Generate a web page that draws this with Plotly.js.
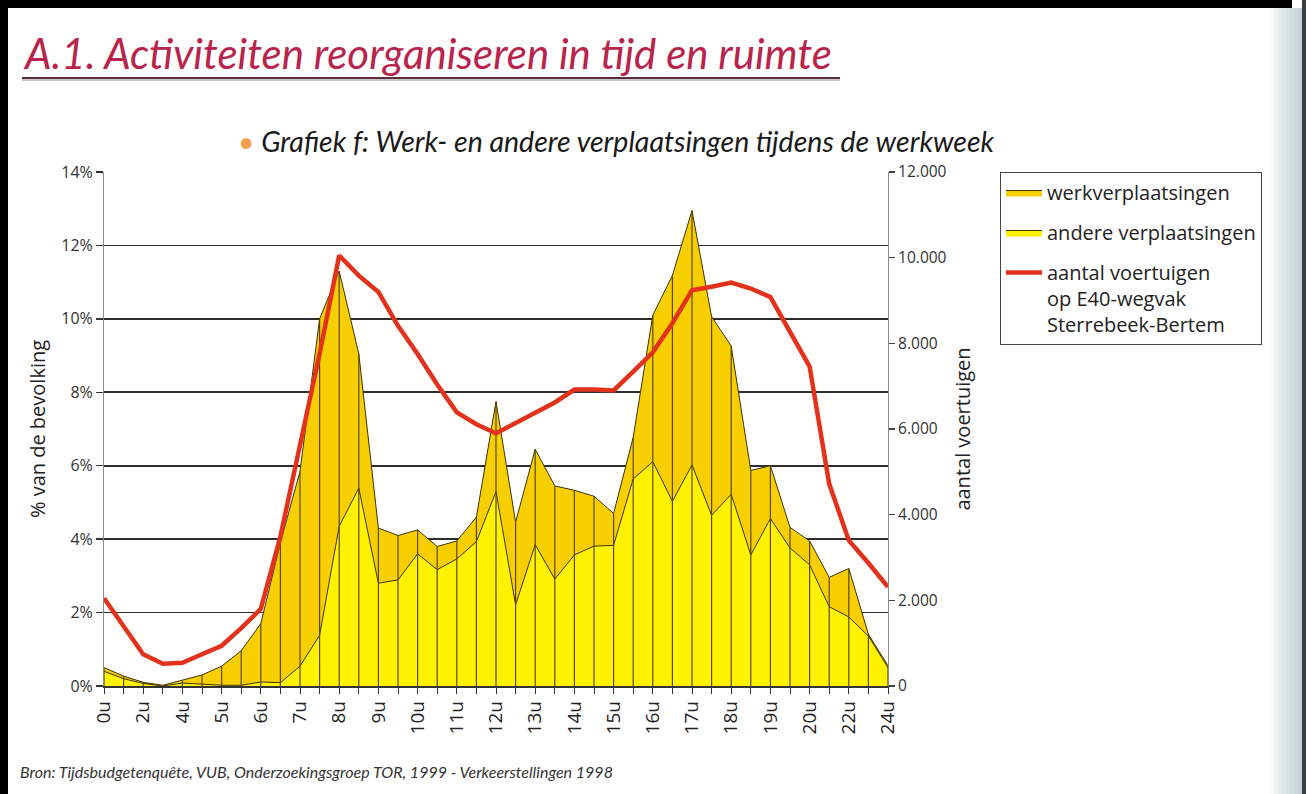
<!DOCTYPE html>
<html>
<head>
<meta charset="utf-8">
<script src="https://cdn.plot.ly/plotly-3.0.1.min.js"></script>
<style>
html,body{margin:0;padding:0;background:#ffffff;}
#chart{width:1306px;height:794px;}
</style>
</head>
<body>
<div id="chart"></div>
<script>
// ---- Data ----
const hours = ['0u','1u','2u','3u','4u','4u30','5u','5u30','6u','6u30','7u','7u30','8u','8u30',
  '9u','9u30','10u','10u30','11u','11u30','12u','12u30','13u','13u30','14u','14u30','15u','15u30',
  '16u','16u30','17u','17u30','18u','18u30','19u','19u30','20u','21u','22u','23u','24u'];
const tickLabels = ['0u','','2u','','4u','','5u','','6u','','7u','','8u','','9u','','10u','','11u','',
  '12u','','13u','','14u','','15u','','16u','','17u','','18u','','19u','','20u','','22u','','24u'];
// % of population, other trips (bottom layer)
const andere = [0.40,0.20,0.07,0.00,0.08,0.04,0.02,0.02,0.11,0.09,0.54,1.38,4.35,5.39,2.80,2.89,3.60,3.17,
  3.46,3.93,5.30,2.21,3.85,2.91,3.57,3.81,3.83,5.64,6.11,5.03,6.02,4.65,5.22,3.57,4.56,3.76,3.30,2.16,1.88,1.36,0.50];
// % of population, work trips (stacked on top)
const werk = [0.10,0.07,0.03,0.02,0.08,0.26,0.52,0.94,1.59,3.81,5.31,8.62,6.95,3.66,1.50,1.21,0.65,0.63,
  0.49,0.67,2.45,2.25,2.60,2.54,1.76,1.36,0.87,1.13,3.99,6.15,6.93,5.41,4.04,2.30,1.44,0.56,0.65,0.80,1.32,0.05,0.05];
// number of vehicles on E40 Sterrebeek-Bertem
const voertuigen = [2050,1390,740,520,540,740,940,1350,1800,3490,5590,7760,10050,9580,9200,8410,7750,7040,
  6390,6110,5900,6130,6380,6620,6920,6920,6900,7340,7790,8470,9240,9320,9420,9280,9080,8270,7460,4720,3400,2870,2310];
const leftTicks = [0,2,4,6,8,10,12,14];
const leftTickLabels = ['0%','2%','4%','6%','8%','10%','12%','14%'];
const rightTicks = [0,2000,4000,6000,8000,10000,12000];

// ---- Geometry helpers (pixel -> paper) ----
const L=104, R=888, T=172, B=686;
const px = x => (x-L)/(R-L);
const py = y => 1-(y-T)/(B-T);
const IFONT = 'Lato, "Open Sans", sans-serif';
const FONT = '"Open Sans", Lato, sans-serif';

// vertical hatch lines from baseline to total at each point
const vx = [], vy = [];
hours.forEach((h,i)=>{ vx.push(h,h,null); vy.push(0, andere[i]+werk[i], null); });

const traces = [
  {x:hours, y:andere, name:'andere verplaatsingen', type:'scatter', mode:'lines', stackgroup:'s',
   line:{color:'#3d3200', width:1}, fillcolor:'#fff200', legendrank:2, legendgroup:'b', hoverinfo:'skip'},
  {x:hours, y:werk, name:'werkverplaatsingen', type:'scatter', mode:'lines', stackgroup:'s',
   line:{color:'#3d3200', width:1}, fillcolor:'#f7cf00', legendrank:1, legendgroup:'a', hoverinfo:'skip'},
  {x:vx, y:vy, type:'scatter', mode:'lines', line:{color:'#5a4800', width:1.2}, showlegend:false, hoverinfo:'skip'},
  {x:hours, y:voertuigen, yaxis:'y2', name:'aantal voertuigen<br>op E40-wegvak<br>Sterrebeek-Bertem', type:'scatter', mode:'lines',
   line:{color:'#e2321c', width:4.5}, legendrank:3, legendgroup:'c'}
];

const shapes = [];
// black frame edges (photographed page)
shapes.push({type:'rect', xref:'paper', yref:'paper', x0:px(-10), x1:px(8), y0:py(800), y1:py(-10), fillcolor:'#000', line:{width:0}, layer:'below'});
shapes.push({type:'rect', xref:'paper', yref:'paper', x0:px(-10), x1:px(1292), y0:py(8), y1:py(-10), fillcolor:'#000', line:{width:0}, layer:'below'});
// right-side page shading
const shade = ['#f6f8f8','#eef2f3','#e6ecee','#dfe7e9','#d8e2e5','#d2dde0','#ccd8db','#c5d1d4'];
shade.forEach((c,k)=>{
  shapes.push({type:'rect', xref:'paper', yref:'paper', x0:px(1270+k*4), x1:px(1274+k*4), y0:py(800), y1:py(8), fillcolor:c, line:{width:0}, layer:'below'});
});
shapes.push({type:'rect', xref:'paper', yref:'paper', x0:px(1302), x1:px(1310), y0:py(800), y1:py(-10), fillcolor:'#3a3f40', line:{width:0}, layer:'below'});
// title underline
shapes.push({type:'line', xref:'paper', yref:'paper', x0:px(22), x1:px(840), y0:py(80), y1:py(80), line:{color:'#c8c8c8', width:2}});
shapes.push({type:'line', xref:'paper', yref:'paper', x0:px(22), x1:px(840), y0:py(78), y1:py(78), line:{color:'#5e2c3c', width:2}});

const annotations = [
  {text:'A.1. Activiteiten reorganiseren in tijd en ruimte', xref:'paper', yref:'paper', x:px(21), y:py(53),
   xanchor:'left', yanchor:'middle', showarrow:false, font:{family:IFONT, size:42, color:'#b8244c', style:'italic'}},
  {text:'<span style="color:#f2a04a">•</span> Grafiek f: Werk- en andere verplaatsingen tijdens de werkweek', xref:'paper', yref:'paper', x:px(236), y:py(141),
   xanchor:'left', yanchor:'middle', showarrow:false, font:{family:IFONT, size:28.5, color:'#1a1a1a', style:'italic'}},
  {text:'Bron: Tijdsbudgetenquête, VUB, Onderzoekingsgroep TOR, 1999 - Verkeerstellingen 1998', xref:'paper', yref:'paper', x:px(18), y:py(771),
   xanchor:'left', yanchor:'middle', showarrow:false, font:{family:IFONT, size:16, color:'#333', style:'italic'}}
];

const layout = {
  width:1306, height:794,
  margin:{l:L, r:1306-R, t:T, b:794-B, pad:0},
  paper_bgcolor:'#ffffff', plot_bgcolor:'#fffefc',
  separators:',.',
  showlegend:true,
  font:{family:FONT, color:'#222'},
  xaxis:{type:'category', categoryorder:'array', categoryarray:hours, range:[0,40],
    tickmode:'array', tickvals:hours, ticktext:tickLabels, tickangle:-90,
    ticks:'outside', ticklen:6, tickwidth:1, tickcolor:'#333',
    showline:true, linecolor:'#333', linewidth:1.5, showgrid:false, zeroline:false,
    tickfont:{family:FONT, size:19, color:'#222'}, fixedrange:true},
  yaxis:{range:[0,14], tickmode:'array', tickvals:leftTicks, ticktext:leftTickLabels,
    ticks:'outside', ticklen:7, tickcolor:'#333', tickwidth:1.5,
    showgrid:true, gridcolor:'#2e2e2e', gridwidth:1.6, zeroline:false,
    showline:true, linecolor:'#8a8a8a', linewidth:1,
    tickfont:{family:FONT, size:16, color:'#333'},
    title:{text:'% van de bevolking', standoff:10, font:{family:FONT, size:20, color:'#222'}}},
  yaxis2:{range:[0,12000], overlaying:'y', side:'right', tickmode:'array', tickvals:rightTicks, tickformat:',d',
    ticks:'outside', ticklen:6, tickcolor:'#444', tickwidth:1.2,
    showgrid:false, zeroline:false, showline:true, linecolor:'#8a8a8a', linewidth:1,
    tickfont:{family:FONT, size:15.5, color:'#333'},
    title:{text:'aantal voertuigen', standoff:10, font:{family:FONT, size:20, color:'#222'}}},
  legend:{x:px(1000), y:py(172), xanchor:'left', yanchor:'top', bgcolor:'#ffffff',
    bordercolor:'#444', borderwidth:1, font:{family:FONT, size:20, color:'#222'},
    traceorder:'grouped', tracegroupgap:11, valign:'top', itemwidth:36},
  shapes:shapes, annotations:annotations
};

Plotly.newPlot('chart', traces, layout, {displayModeBar:false, staticPlot:true});
</script>
</body>
</html>
